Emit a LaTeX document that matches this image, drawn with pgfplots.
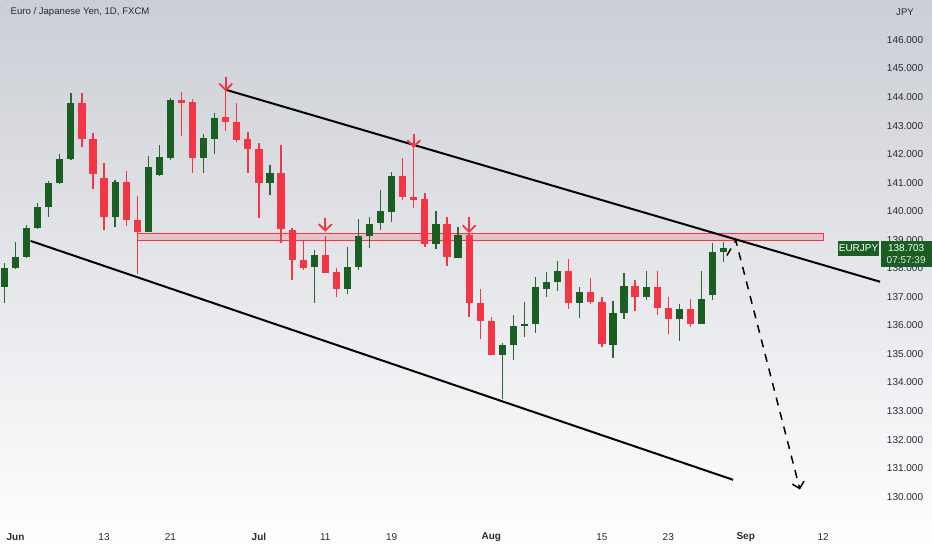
\documentclass[border=0pt]{standalone}
\usepackage{fontspec}
\setmainfont{Liberation Sans}
\usepackage{pgfplots}
\pgfplotsset{compat=1.18}
\usepackage{pgfplotstable}
\usetikzlibrary{arrows.meta}

\definecolor{gcol}{RGB}{26,94,35}
\definecolor{rcol}{RGB}{242,54,69}
\definecolor{bgtop}{RGB}{203,206,213}
\definecolor{txt}{RGB}{40,42,48}

% i = trading day since 1 Jun, o h l c
\pgfplotstableread{
i o h l c
-1 137.35 138.19 136.79 138.02
0 138.02 138.93 137.98 138.40
1 138.40 139.52 138.37 139.42
2 139.42 140.29 139.38 140.15
3 140.15 141.06 139.80 140.99
4 140.99 142.01 140.96 141.83
5 141.83 144.14 141.80 143.79
9 139.80 141.10 139.45 141.03
12 139.28 141.94 139.28 141.55
13 141.27 142.32 141.24 141.90
14 141.87 143.97 141.80 143.90
17 141.87 142.71 141.34 142.57
18 142.53 143.44 142.01 143.27
23 140.99 141.62 140.57 141.34
27 138.05 138.65 136.79 138.47
30 137.28 138.75 137.11 138.05
31 138.05 139.73 137.95 139.14
32 139.14 139.80 138.72 139.56
33 139.59 140.75 139.35 140.01
34 139.98 141.38 139.63 141.24
38 138.86 140.01 138.68 139.56
40 138.37 139.45 138.37 139.17
44 134.97 135.39 133.43 135.32
45 135.32 136.37 134.80 135.99
46 135.99 136.83 135.60 136.06
47 136.06 137.70 135.74 137.35
48 137.28 137.88 137.00 137.53
49 137.53 138.26 137.21 137.91
51 136.79 137.35 136.27 137.18
54 135.32 136.86 134.87 136.44
55 136.44 137.84 136.23 137.39
57 137.00 137.91 136.90 137.35
60 136.23 136.76 135.46 136.58
62 136.06 137.91 136.06 136.93
63 137.07 138.89 136.90 138.58
64 138.58 138.93 138.23 138.70
}\greens

\pgfplotstableread{
i o h l c
6 143.79 144.14 142.25 142.53
7 142.53 142.74 140.78 141.31
8 141.17 141.69 139.35 139.80
10 141.03 141.41 139.49 139.70
11 139.70 140.54 137.81 139.28
15 143.90 144.18 142.64 143.79
16 143.83 143.93 141.34 141.87
19 143.30 144.25 142.81 143.13
20 143.13 143.79 142.43 142.50
21 142.53 142.78 141.34 142.18
22 142.18 142.39 139.77 140.99
24 141.34 142.32 138.89 139.38
25 139.35 139.42 137.60 138.30
26 138.30 138.96 137.95 138.02
28 138.47 139.14 137.84 137.84
29 137.88 138.02 137.00 137.28
35 141.24 141.87 140.40 140.50
36 140.50 142.25 140.12 140.40
37 140.43 140.64 138.75 138.86
39 139.56 139.80 138.09 138.40
41 139.17 139.20 136.30 136.79
42 136.79 137.28 135.53 136.16
43 136.16 136.30 134.97 134.97
50 137.91 138.33 136.58 136.79
52 137.18 137.67 136.76 136.83
53 136.83 137.00 135.25 135.36
56 137.39 137.60 136.51 137.00
58 137.35 137.91 136.37 136.62
59 136.62 137.00 135.71 136.23
61 136.58 136.93 135.95 136.06
}\reds

\pgfplotsset{
  wick/.style={draw=none, forget plot, error bars/.cd, y dir=both, y explicit,
    error mark=none, error bar style={draw=#1, line width=0.65pt}},
  body/.style={draw=none, forget plot, error bars/.cd, y dir=both, y explicit,
    error mark=none, error bar style={draw=#1, line width=3.6pt}},
  sell/.style={rcol, line width=0.9pt, -{Straight Barb[length=3.2pt,width=6.5pt]}},
}

\begin{document}
\begin{tikzpicture}
\begin{axis}[
  scale only axis, width=466pt, height=275pt,
  xmin=-1.355, xmax=82.837, ymin=128.143, ymax=147.401,
  axis line style={draw=none}, tick style={draw=none},
  axis background/.style={top color=bgtop, bottom color=white},
  /pgf/number format/assume math mode=true,
  tick label style={font=\fontsize{5}{6}\selectfont, text=txt},
  ytick={130,131,...,146},
  yticklabel pos=right,
  yticklabel style={anchor=center, xshift=-13.5pt,
    /pgf/number format/fixed, /pgf/number format/fixed zerofill,
    /pgf/number format/precision=3, /pgf/number format/1000 sep={}},
  xtick={0,8,14,22,28,34,43,53,59,66,73},
  xticklabels={\textbf{Jun},13,21,\textbf{Jul},11,19,\textbf{Aug},15,23,\textbf{Sep},12},
  xticklabel style={anchor=center, yshift=6.5pt},
]
% resistance zone
\addplot[draw=rcol, line width=0.5pt, fill=rcol, fill opacity=0.18]
  coordinates {(11,138.96) (73,138.96) (73,139.21) (11,139.21) (11,138.96)};

% candles
\addplot[wick=gcol!80!gray] table[x=i, y expr={(\thisrow{h}+\thisrow{l})/2},
  y error expr={(\thisrow{h}-\thisrow{l})/2}] {\greens};
\addplot[body=gcol] table[x=i, y expr={(\thisrow{o}+\thisrow{c})/2},
  y error expr={abs(\thisrow{c}-\thisrow{o})/2}] {\greens};
\addplot[wick=rcol] table[x=i, y expr={(\thisrow{h}+\thisrow{l})/2},
  y error expr={(\thisrow{h}-\thisrow{l})/2}] {\reds};
\addplot[body=rcol] table[x=i, y expr={(\thisrow{o}+\thisrow{c})/2},
  y error expr={abs(\thisrow{c}-\thisrow{o})/2}] {\reds};

% channel
\addplot[black, line width=1pt] coordinates {(19.06,144.25) (78.14,137.53)};
\addplot[black, line width=1pt] coordinates {(1.36,138.96) (64.86,130.59)};

% sell arrows
\addplot[sell] coordinates {(19,144.70) (19,144.20)};
\addplot[sell] coordinates {(28,139.78) (28,139.28)};
\addplot[sell] coordinates {(36,142.72) (36,142.22)};
\addplot[sell] coordinates {(41,139.80) (41,139.24)};

% projection
\addplot[black, line width=0.75pt, dash pattern=on 4pt off 3.5pt,
  -{Straight Barb[length=3pt,width=6pt]}]
  coordinates {(64.3,138.45) (65.1,138.98) (70.9,130.25)};

% labels
\node[anchor=west, font=\fontsize{4.8}{6}\selectfont, text=txt]
  at (rel axis cs:0,1) [xshift=1.5pt, yshift=-6.2pt] {Euro / Japanese Yen, 1D, FXCM};
\node[font=\fontsize{4.8}{6}\selectfont, text=txt]
  at (axis cs:80.4,147.4) [yshift=-6.2pt] {JPY};
\fill[gcol] (axis cs:74.35,138.96) rectangle (axis cs:78.05,138.44);
\node[font=\fontsize{5}{6}\selectfont, text=white] at (axis cs:76.2,138.70) {EURJPY};
\fill[gcol] (axis cs:78.2,138.96) rectangle (axis cs:82.84,138.05);
\node[font=\fontsize{5}{6}\selectfont, text=white] at (axis cs:80.5,138.70) {138.703};
\node[font=\fontsize{5}{6}\selectfont, text=white!85!gcol] at (axis cs:80.5,138.29) {07:57:39};
\end{axis}
\end{tikzpicture}
\end{document}
